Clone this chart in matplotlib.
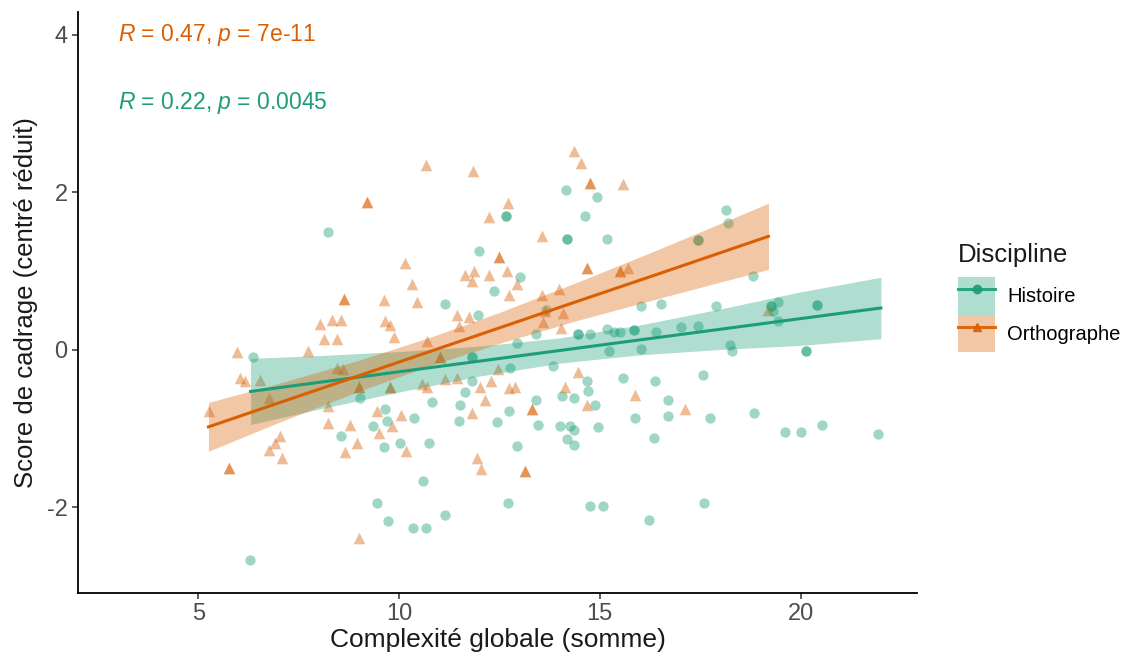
import numpy as np
import matplotlib
matplotlib.use("Agg")
import matplotlib.pyplot as plt
from matplotlib.patches import Patch
from matplotlib.lines import Line2D

plt.rcParams['font.family'] = ['Liberation Sans', 'DejaVu Sans']
plt.rcParams['mathtext.fontset'] = 'custom'
plt.rcParams['mathtext.it'] = 'Liberation Sans:italic'
plt.rcParams['mathtext.rm'] = 'Liberation Sans'

# ---------------- data ----------------
categories = ["Histoire", "Orthographe"]
legend_title = "Discipline"

histoire_x = [8.23, 6.36, 9.03, 10.83, 9.65, 9.69, 10.38, 9.36, 8.56, 9.63, 10.02, 10.75,
              10.59, 9.45, 9.73, 10.34, 10.66, 6.28, 11.14, 14.15, 14.92, 12.65, 12.65,
              14.64, 14.17, 14.17, 15.18, 12.0, 13.01, 12.36, 11.14, 11.97, 13.66, 13.41,
              14.45, 14.45, 14.75, 15.17, 15.36, 15.50, 15.85, 15.85, 16.03, 16.53, 16.03,
              12.93, 15.22, 11.81, 11.81, 17.90, 13.84, 14.67, 14.71, 15.58, 16.37, 17.57,
              16.41, 17.03, 17.44, 12.76, 11.81, 11.64, 11.52, 13.42, 12.74, 14.05, 14.35,
              14.88, 16.70, 11.48, 12.44, 13.47, 14.0, 14.25, 14.35, 14.96, 15.87, 16.70,
              14.17, 14.35, 16.34, 12.93, 12.70, 14.75, 15.07, 16.22, 18.15, 18.19, 17.45,
              17.45, 18.82, 19.27, 19.27, 19.44, 19.31, 20.41, 20.41, 19.44, 18.23, 18.30,
              20.14, 20.14, 17.75, 18.83, 19.60, 20.0, 20.54, 21.94, 17.6]
histoire_y = [1.50, -0.09, -0.61, -0.66, -0.75, -0.90, -0.87, -0.97, -1.10, -1.24, -1.18, -1.19,
              -1.67, -1.95, -2.18, -2.27, -2.27, -2.67, -2.10, 2.03, 1.94, 1.70, 1.70,
              1.70, 1.41, 1.41, 1.41, 1.25, 0.92, 0.75, 0.58, 0.44, 0.51, 0.20,
              0.20, 0.20, 0.20, 0.26, 0.22, 0.22, 0.25, 0.25, 0.55, 0.58, 0.01,
              0.09, -0.02, -0.09, -0.09, 0.55, -0.21, -0.40, -0.53, -0.36, -0.40, -0.32,
              0.23, 0.29, 0.30, -0.23, -0.40, -0.54, -0.70, -0.64, -0.78, -0.59, -0.61,
              -0.70, -0.64, -0.90, -0.92, -0.95, -0.97, -0.97, -1.02, -0.98, -0.87, -0.84,
              -1.14, -1.21, -1.12, -1.22, -1.95, -1.99, -1.99, -2.16, 1.78, 1.61, 1.39,
              1.39, 0.94, 0.55, 0.55, 0.60, 0.49, 0.57, 0.57, 0.36, 0.06, -0.02,
              -0.02, -0.02, -0.87, -0.81, -1.04, -1.04, -0.96, -1.07, -1.95]

ortho_x = [10.66, 9.20, 9.20, 10.15, 10.31, 8.63, 8.63, 9.63, 10.44, 8.03, 8.33, 8.56, 9.65,
           9.78, 8.12, 8.45, 9.88, 10.69, 5.96, 7.74, 6.04, 6.17, 6.54, 6.75, 5.26, 8.45,
           8.61, 8.99, 8.99, 9.78, 9.78, 10.56, 10.69, 8.24, 8.24, 8.78, 9.45, 10.04, 9.82,
           9.49, 8.95, 10.17, 8.66, 7.04, 6.92, 6.75, 7.08, 5.75, 5.75, 8.99, 11.83, 14.35,
           14.53, 14.76, 14.76, 15.58, 12.72, 12.25, 13.57, 12.49, 12.49, 14.67, 14.67,
           15.50, 15.50, 15.71, 11.64, 11.87, 11.81, 12.25, 12.68, 12.93, 12.74, 11.45,
           11.75, 11.48, 13.55, 13.99, 14.09, 13.59, 14.03, 11.02, 11.02, 13.63, 14.46,
           14.13, 15.87, 11.14, 11.43, 12.47, 12.01, 12.30, 12.74, 12.88, 12.14, 11.81,
           13.30, 13.30, 14.67, 11.95, 12.05, 13.13, 13.13, 17.11, 19.2]
ortho_y = [2.35, 1.88, 1.88, 1.10, 0.83, 0.65, 0.65, 0.63, 0.60, 0.33, 0.38, 0.38, 0.37,
           0.32, 0.13, 0.13, 0.16, 0.11, -0.03, -0.02, -0.36, -0.40, -0.38, -0.61, -0.78, -0.23,
           -0.25, -0.47, -0.47, -0.47, -0.47, -0.44, -0.47, -0.72, -0.93, -0.95, -0.78, -0.83, -0.97,
           -1.06, -1.19, -1.29, -1.30, -1.10, -1.19, -1.27, -1.38, -1.50, -1.50, -2.39, 2.27, 2.53,
           2.37, 2.12, 2.12, 2.11, 1.86, 1.69, 1.45, 1.18, 1.18, 1.04, 1.04,
           1.00, 1.00, 1.04, 0.95, 1.00, 0.87, 0.95, 1.00, 0.84, 0.70, 0.44,
           0.42, 0.30, 0.70, 0.77, 0.47, 0.35, 0.28, -0.09, -0.09, 0.49, -0.28,
           -0.47, -0.58, -0.37, -0.36, -0.25, -0.47, -0.40, -0.49, -0.47, -0.64, -0.80,
           -0.75, -0.75, -0.70, -1.38, -1.52, -1.54, -1.54, -0.75, 0.50]

# regression lines and confidence ribbons
histoire_fit_x = [6.3, 8.0, 10.0, 12.0, 14.0, 16.0, 18.0, 20.0, 22.0]
histoire_fit_y = [-0.53, -0.415, -0.28, -0.145, -0.01, 0.125, 0.26, 0.395, 0.53]
histoire_fit_lo = [-0.95, -0.755, -0.537, -0.335, -0.17, -0.065, 0.003, 0.055, 0.14]
histoire_fit_hi = [-0.11, -0.075, -0.023, 0.045, 0.15, 0.315, 0.517, 0.735, 0.92]

ortho_fit_x = [5.25, 7.0, 9.0, 10.8, 12.5, 14.5, 16.5, 19.2]
ortho_fit_y = [-0.98, -0.676, -0.33, -0.017, 0.278, 0.625, 0.97, 1.44]
ortho_fit_lo = [-1.29, -0.924, -0.527, -0.197, 0.082, 0.38, 0.657, 1.02]
ortho_fit_hi = [-0.67, -0.428, -0.133, 0.163, 0.474, 0.87, 1.283, 1.86]

stat_labels = [r"$\mathit{R}$ = 0.22, $\mathit{p}$ = 0.0045",
               r"$\mathit{R}$ = 0.47, $\mathit{p}$ = 7e-11"]
label_pos = [(3.0, 3.14), (3.0, 4.0)]

xticks = [5, 10, 15, 20]
yticks = [-2, 0, 2, 4]

colors = ["#1B9E77", "#D95F02"]
markers = ["o", "^"]

# ---------------- figure ----------------
fig = plt.figure(figsize=(11.3, 6.55), dpi=100)
ax = fig.add_axes([0.069, 0.0947, 0.7425, 0.887])

series = [(histoire_x, histoire_y), (ortho_x, ortho_y)]
fits = [(histoire_fit_x, histoire_fit_y, histoire_fit_lo, histoire_fit_hi),
        (ortho_fit_x, ortho_fit_y, ortho_fit_lo, ortho_fit_hi)]

for (x, y), c, m in zip(series, colors, markers):
    ax.scatter(x, y, s=55 if m == "o" else 70, marker=m, color=c, alpha=0.42,
               linewidths=0, zorder=2)

for (fx, fy, flo, fhi), c in zip(fits, colors):
    ax.fill_between(fx, flo, fhi, color=c, alpha=0.35, linewidth=0, zorder=3)
    ax.plot(fx, fy, color=c, lw=2.2, zorder=4)

for lab, (lx, ly), c in zip(stat_labels, label_pos, colors):
    ax.text(lx, ly, lab, color=c, fontsize=16.5, ha="left", va="center")

ax.set_xlim(2.0, 22.9)
ax.set_ylim(-3.09, 4.29)
ax.set_xticks(xticks)
ax.set_yticks(yticks)
ax.set_xticklabels([str(t) for t in xticks])
ax.set_yticklabels([str(t) for t in yticks])
ax.tick_params(axis="both", labelsize=17, labelcolor="#4D4D4D", color="#333333",
               length=4, width=1.1, direction="out")
for sp in ["top", "right"]:
    ax.spines[sp].set_visible(False)
for sp in ["left", "bottom"]:
    ax.spines[sp].set_linewidth(1.3)
    ax.spines[sp].set_color("black")

ax.set_xlabel("Complexité globale (somme)", fontsize=19, color="#1a1a1a", labelpad=2)
ax.set_ylabel("Score de cadrage (centré réduit)", fontsize=18.5, color="#1a1a1a", labelpad=6)

# legend: title as separate text, entries below it
fig.text(0.848, 1 - 255 / 655, legend_title, fontsize=18.5, color="#1a1a1a",
         ha="left", va="center")
handles = []
for c, m in zip(colors, markers):
    handles.append((Patch(facecolor=c, alpha=0.35, edgecolor="none"),
                    Line2D([], [], color=c, lw=2.2, marker=m, markersize=6, alpha=0.9)))
fig.legend(handles, categories, loc="upper left",
           bbox_to_anchor=(0.848, 1 - 277 / 655), frameon=False, fontsize=14.5,
           handlelength=1.84, handleheight=2.5,
           labelspacing=0.0, handletextpad=0.6, borderaxespad=0, borderpad=0)

fig.savefig("out.png", dpi=100)
